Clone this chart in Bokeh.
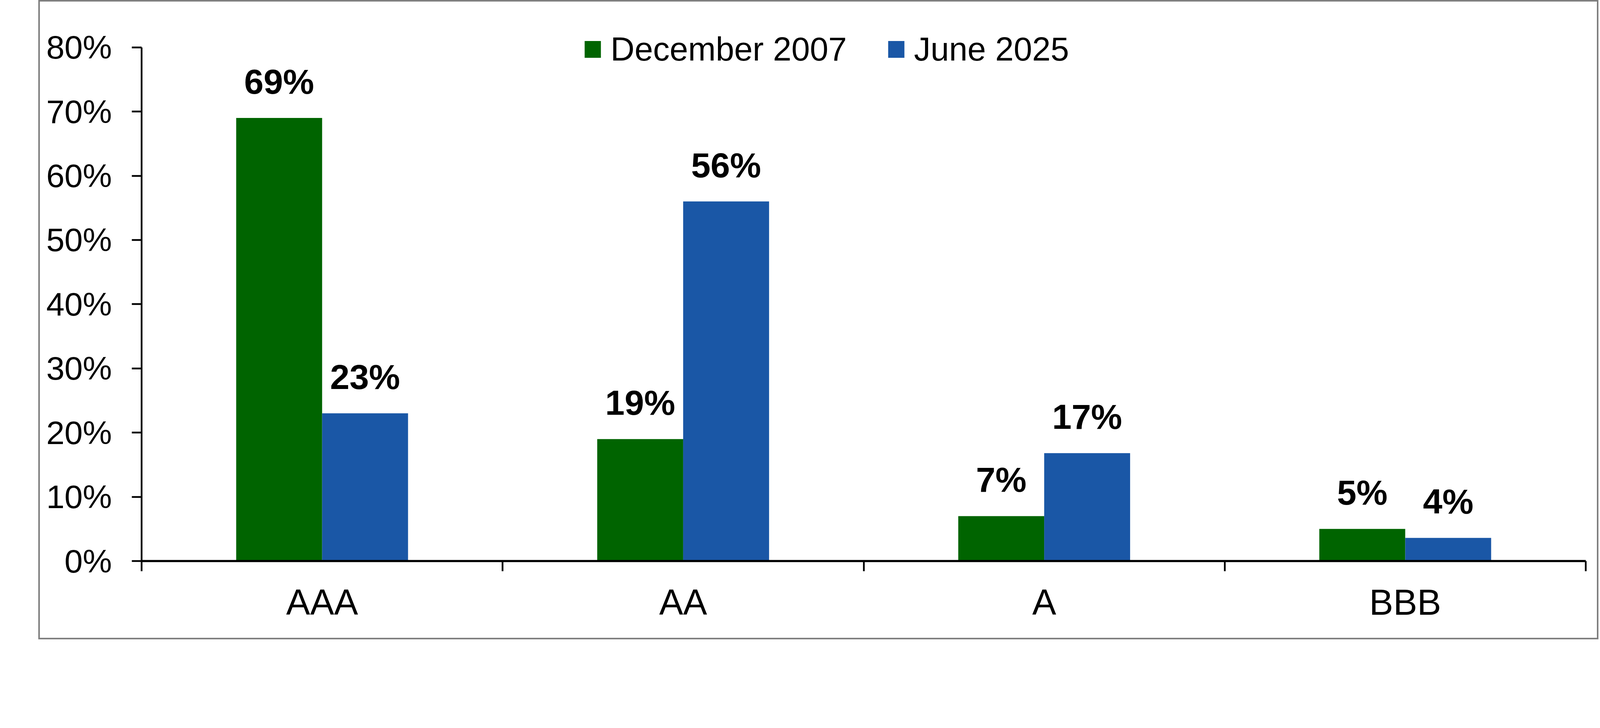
from bokeh.plotting import figure
from bokeh.models import ColumnDataSource, Range1d, FixedTicker, Spacer
from bokeh.layouts import row
from bokeh.transform import dodge
from bokeh.embed import file_html
from bokeh.resources import INLINE
from bokeh.core.properties import value

# ---- data ----
categories = ["AAA", "AA", "A", "BBB"]
series_names = ["December 2007", "June 2025"]
dec_2007 = [69, 19, 7, 5]
jun_2025 = [23, 56, 16.8, 3.6]
dec_2007_labels = ["69%", "19%", "7%", "5%"]
jun_2025_labels = ["23%", "56%", "17%", "4%"]
y_ticks = [0, 10, 20, 30, 40, 50, 60, 70, 80]
y_tick_labels = ["0%", "10%", "20%", "30%", "40%", "50%", "60%", "70%", "80%"]

# ---- style ----
S = 4097 / 4668.0          # css px per screenshot px
FONT = "Liberation Sans"
GREEN = "#006400"
BLUE = "#1A57A6"
BAR_W = 0.238

BORDER = 5 * S
canvas_top = BORDER
frame_bottom = 1636 * S
tick80 = 138 * S
per_unit = (frame_bottom - tick80) / 80.0
frame_h = frame_bottom - canvas_top
Y_END = frame_h / per_unit

idx = list(range(len(categories)))
src = ColumnDataSource(dict(x=idx, dec=dec_2007, jun=jun_2025,
                            dec_lab=dec_2007_labels, jun_lab=jun_2025_labels))

p = figure(width=3994, height=1637,
           x_range=Range1d(-0.5, len(categories) - 0.5), y_range=Range1d(0, Y_END),
           output_backend="svg", toolbar_location=None,
           min_border_left=260, min_border_right=37,
           min_border_top=0, min_border_bottom=205)
p.styles = {"border": "%.1fpx solid #7F7F7F" % BORDER}
p.outline_line_color = None
p.xgrid.visible = False
p.ygrid.visible = False
p.background_fill_color = "white"
p.border_fill_color = "white"

p.vbar(x=dodge("x", -BAR_W / 2), top="dec", bottom=0, width=BAR_W,
       fill_color=GREEN, line_color=None, source=src, legend_label=series_names[0])
p.vbar(x=dodge("x", BAR_W / 2), top="jun", bottom=0, width=BAR_W,
       fill_color=BLUE, line_color=None, source=src, legend_label=series_names[1])

for col, lab, off in (("dec", "dec_lab", -BAR_W / 2), ("jun", "jun_lab", BAR_W / 2)):
    p.text(x=dodge("x", off), y=col, text=lab, source=src,
           text_font=value(FONT), text_font_size=value("89.5px"),
           text_font_style="bold", text_align="center",
           text_baseline="alphabetic", y_offset=-93, text_color="black")

# y axis
ya = p.yaxis[0]
ya.ticker = FixedTicker(ticks=y_ticks, minor_ticks=[])
ya.bounds = (0, 80)
ya.major_label_overrides = {t: l for t, l in zip(y_ticks, y_tick_labels)}
ya.major_label_text_font = FONT
ya.major_label_text_font_size = "84px"
ya.major_label_text_color = "black"
ya.major_tick_in = 0
ya.major_tick_out = 25
ya.major_tick_line_width = 4.4
ya.major_tick_line_color = "black"
ya.axis_line_width = 4.4
ya.axis_line_color = "black"
ya.major_label_standoff = 51
ya.minor_tick_line_color = None

# x axis
xa = p.xaxis[0]
xa.ticker = FixedTicker(ticks=idx, minor_ticks=[i - 0.5 for i in range(len(categories) + 1)])
xa.major_label_overrides = {i: c for i, c in zip(idx, categories)}
xa.major_label_text_font = FONT
xa.major_label_text_font_size = "92px"
xa.major_label_text_color = "black"
xa.major_tick_in = 0
xa.major_tick_out = 0
xa.major_tick_line_color = None
xa.minor_tick_in = 0
xa.minor_tick_out = 26
xa.minor_tick_line_width = 4.4
xa.minor_tick_line_color = "black"
xa.axis_line_width = 5.3
xa.axis_line_color = "black"
xa.major_label_standoff = 28

# legend (bar legend glyphs are drawn inset by 10% on each side)
lg = p.legend[0]
lg.location = (1129, 1261)
lg.orientation = "horizontal"
lg.label_text_font = FONT
lg.label_text_font_size = "85px"
lg.label_text_color = "black"
lg.label_text_baseline = "alphabetic"
lg.glyph_width = 52
lg.glyph_height = 54
lg.label_height = 54
lg.label_standoff = 20
lg.spacing = 100
lg.padding = 0
lg.margin = 0
lg.border_line_color = None
lg.background_fill_alpha = 0

layout = row(Spacer(width=98, height=10), p)
open("out.html", "w").write(file_html(layout, INLINE))
